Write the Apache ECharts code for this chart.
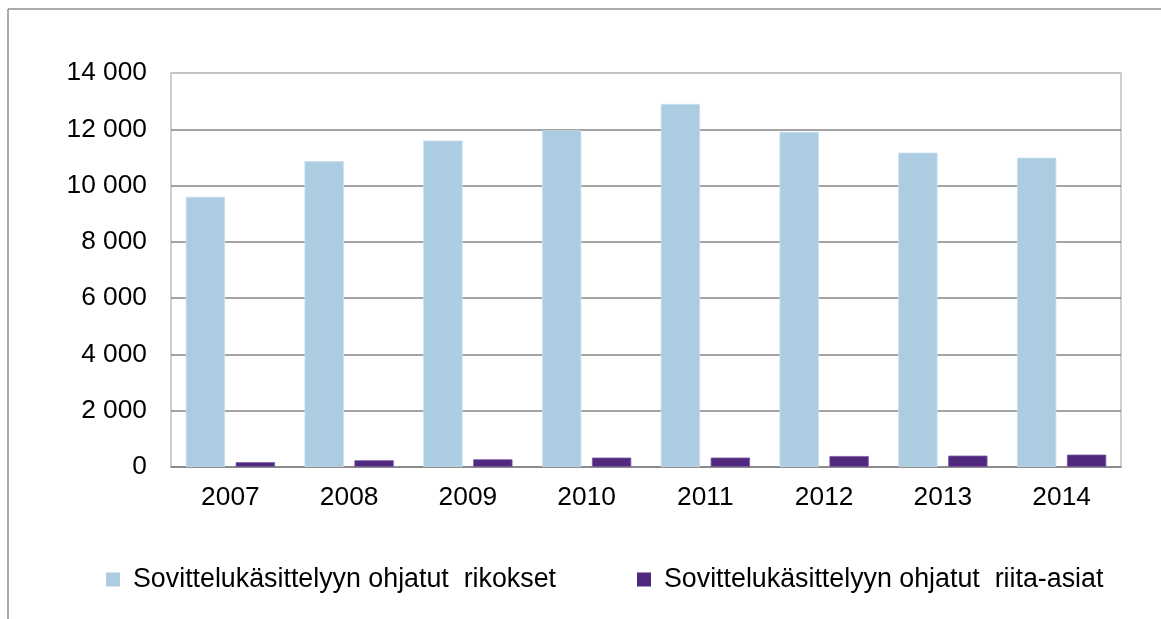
<!DOCTYPE html>
<html>
<head>
<meta charset="utf-8">
<script src="https://cdn.jsdelivr.net/npm/echarts@6/dist/echarts.min.js"></script>
<style>
  html, body { margin: 0; padding: 0; background: #ffffff; }
  #chart { width: 1161px; height: 619px; }
</style>
</head>
<body>
<div id="chart"></div>
<script>
const years = ['2007', '2008', '2009', '2010', '2011', '2012', '2013', '2014'];
const seriesNames = ['Sovittelukäsittelyyn ohjatut  rikokset', 'Sovittelukäsittelyyn ohjatut  riita-asiat'];
const crimes = [9600, 10870, 11600, 11960, 12900, 11910, 11170, 10990];
const civil = [170, 240, 275, 335, 335, 390, 405, 440];
const yTicks = { min: 0, max: 14000, interval: 2000 };

const FONT = '"Liberation Sans", Arial, sans-serif';
const chart = echarts.init(document.getElementById('chart'), null, { renderer: 'canvas' });

chart.setOption({
  animation: false,
  backgroundColor: '#ffffff',
  graphic: [
    { type: 'line', shape: { x1: 8, y1: 9, x2: 1161, y2: 9 }, style: { stroke: '#8e8e8e', lineWidth: 1.5 }, silent: true },
    { type: 'line', shape: { x1: 8, y1: 9, x2: 8, y2: 619 }, style: { stroke: '#8e8e8e', lineWidth: 1.5 }, silent: true }
  ],
  grid: {
    left: 171, right: 40, top: 73, bottom: 152,
    show: true, borderColor: '#c0c0c0', borderWidth: 1.5
  },
  legend: {
    left: 106, top: 566, padding: 0,
    itemWidth: 14, itemHeight: 14, itemGap: 81,
    icon: 'rect',
    itemStyle: { borderWidth: 0 },
    textStyle: { fontFamily: FONT, fontSize: 26.8, color: '#000000', padding: [0, 0, 0, 8] },
    data: seriesNames
  },
  xAxis: {
    type: 'category',
    data: years,
    axisTick: { show: false },
    axisLine: { lineStyle: { color: '#868686', width: 1.5 } },
    axisLabel: { fontFamily: FONT, fontSize: 26.3, color: '#000000', margin: 18 }
  },
  yAxis: {
    type: 'value',
    min: yTicks.min, max: yTicks.max, interval: yTicks.interval,
    axisLine: { show: false },
    axisTick: { show: false },
    splitLine: { lineStyle: { color: ['#868686', '#868686', '#868686', '#868686', '#868686', '#868686', '#868686', '#c0c0c0'], width: 1.5 } },
    axisLabel: {
      fontFamily: FONT, fontSize: 26.3, color: '#000000', margin: 24,
      formatter: v => String(v).replace(/\B(?=(\d{3})+(?!\d))/g, ' ')
    }
  },
  series: [
    { name: seriesNames[0], type: 'bar', data: crimes, barWidth: 39.3, barGap: '27%',
      itemStyle: { color: '#accce2', borderColor: '#c8e0ef', borderWidth: 0.8 } },
    { name: seriesNames[1], type: 'bar', data: civil, barWidth: 39.3, barGap: '27%',
      itemStyle: { color: '#50287d', borderColor: '#7a5aa3', borderWidth: 0.8 } }
  ]
});
</script>
</body>
</html>
